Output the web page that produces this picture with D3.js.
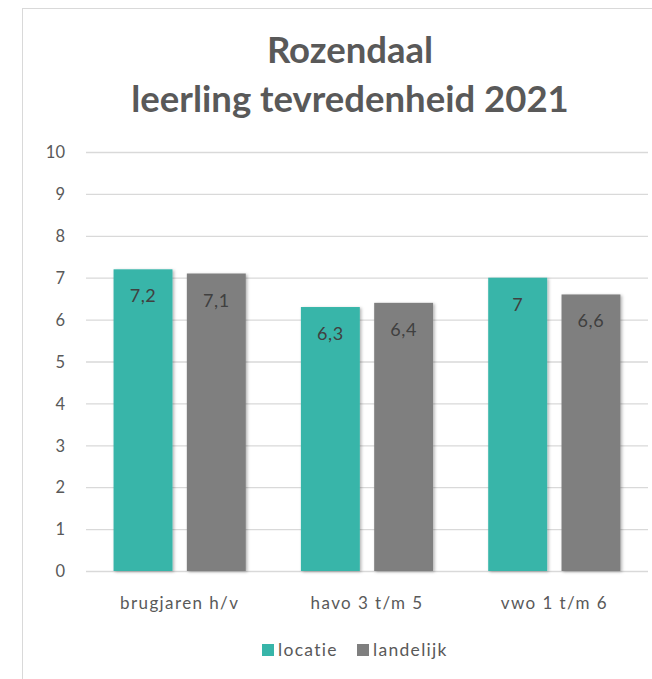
<!DOCTYPE html>
<html><head><meta charset="utf-8">
<script src="https://cdn.jsdelivr.net/npm/d3@7/dist/d3.min.js"></script>
<style>body{margin:0;background:#fff}svg{display:block}</style>
</head><body>
<script>
const categories = ["brugjaren h/v", "havo 3 t/m 5", "vwo 1 t/m 6"];
const seriesNames = ["locatie", "landelijk"];
const locatie = [7.2, 6.3, 7];
const landelijk = [7.1, 6.4, 6.6];
const yTicks = [0,1,2,3,4,5,6,7,8,9,10];
const colors = ["#37B5A9", "#7F7F7F"];
const titleLines = ["Rozendaal", "leerling tevredenheid 2021"];

const W = 652, H = 679;
const svg = d3.select("body").append("svg").attr("width", W).attr("height", H);
const defs = svg.append("defs");
const f = defs.append("filter").attr("id","sh").attr("x","-20%").attr("y","-10%").attr("width","150%").attr("height","130%");
f.append("feDropShadow").attr("dx",1.5).attr("dy",1).attr("stdDeviation",1.8).attr("flood-color","#000").attr("flood-opacity",0.3);

svg.append("rect").attr("x",22.5).attr("y",8.5).attr("width",800).attr("height",800)
  .attr("fill","#fff").attr("stroke","#d9d9d9").attr("stroke-width",1);

const font = "Lato, 'Open Sans', sans-serif";
const x = d3.scaleBand().domain(categories).range([86, 648]).paddingInner(0).paddingOuter(0);
const x1 = d3.scaleBand().domain(seriesNames).range([0, x.bandwidth()]).paddingInner(0.196).paddingOuter(0.376);
const y = d3.scaleLinear().domain([0, 10]).range([571, 152]);

// grid
const yAxis = d3.axisLeft(y).tickValues(yTicks).tickSize(-(648-86)).tickFormat(d3.format("d"));
const gy = svg.append("g").attr("transform","translate(86,0)").call(yAxis);
gy.select(".domain").remove();
gy.selectAll(".tick line").attr("stroke","#d9d9d9").attr("stroke-width",1.3);
gy.selectAll(".tick text").attr("x",-21).attr("fill","#595959").attr("font-family",font).attr("font-size",16.5).attr("dy","0.35em");

const data = categories.map((c,i)=>({cat:c, vals:[locatie[i], landelijk[i]]}));
const g = svg.append("g");
const grp = g.selectAll("g.grp").data(data).join("g").attr("transform",d=>`translate(${x(d.cat)},0)`);
grp.selectAll("rect").data(d=>d.vals.map((v,j)=>({s:seriesNames[j], v, j})))
  .join("rect")
  .attr("x",d=>x1(d.s)).attr("width",x1.bandwidth())
  .attr("y",d=>y(d.v)).attr("height",d=>y(0)-y(d.v))
  .attr("fill",d=>colors[d.j]).attr("filter","url(#sh)");
const fmt = v => String(v).replace(".", ",");
grp.selectAll("text").data(d=>d.vals.map((v,j)=>({s:seriesNames[j], v, j})))
  .join("text")
  .attr("x",d=>x1(d.s)+x1.bandwidth()/2).attr("y",d=>y(d.v)+33)
  .attr("text-anchor","middle").attr("fill","#404040")
  .attr("font-family",font).attr("font-size",18).attr("letter-spacing",0.6).text(d=>fmt(d.v));

// x axis
const xAxis = d3.axisBottom(x).tickSize(0);
const gx = svg.append("g").attr("transform",`translate(0,${y(0)})`).call(xAxis);
gx.select(".domain").remove();
gx.selectAll(".tick text").attr("y",38).attr("dy",0).attr("fill","#595959").attr("font-family",font)
  .attr("font-size",17).attr("letter-spacing",1.4);

// title
svg.append("g").selectAll("text").data(titleLines).join("text")
  .attr("x",d=>350).attr("y",(d,i)=>63+i*49).attr("text-anchor","middle")
  .attr("fill","#595959").attr("font-family",font).attr("font-weight","bold").attr("font-size",36.5)
  .text(d=>d);

// legend
const leg = svg.append("g").attr("transform","translate(262,650)");
const items = [{n:seriesNames[0], x:0},{n:seriesNames[1], x:95}];
const li = leg.selectAll("g").data(items).join("g").attr("transform",d=>`translate(${d.x},0)`);
li.append("rect").attr("x",0).attr("y",-6).attr("width",12).attr("height",12).attr("fill",(d,i)=>colors[i]);
li.append("text").attr("x",16).attr("y",0).attr("dy","0.35em").attr("fill","#595959")
  .attr("font-family",font).attr("font-size",17.5).attr("letter-spacing",1.3).text(d=>d.n);
</script>
</body></html>
